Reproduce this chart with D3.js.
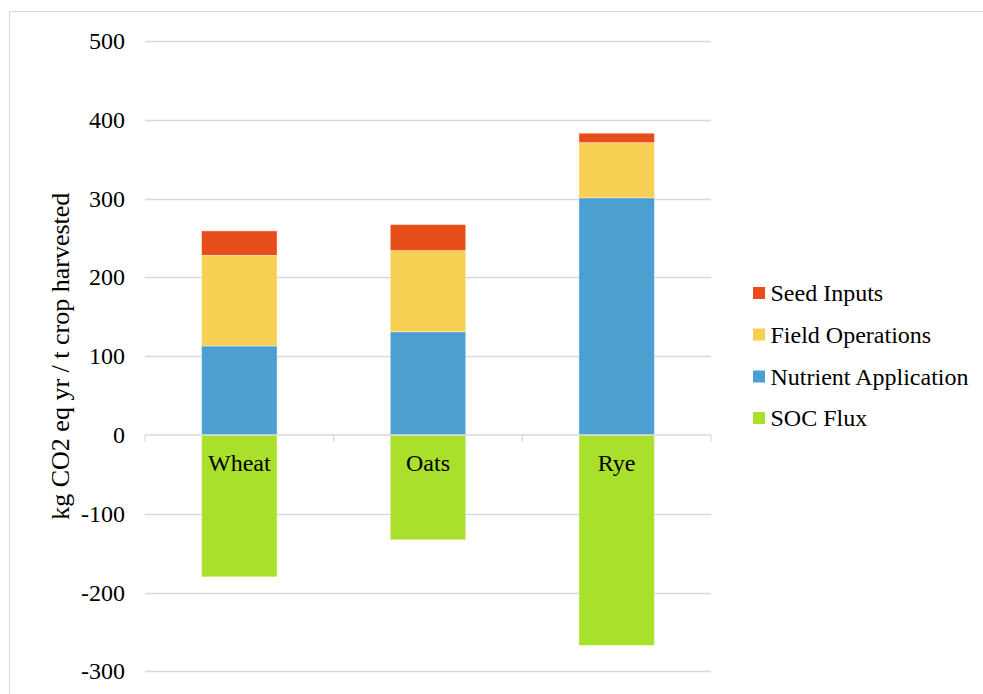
<!DOCTYPE html>
<html>
<head>
<meta charset="utf-8">
<script src="https://cdn.jsdelivr.net/npm/d3@7"></script>
<style>
  html, body { margin: 0; padding: 0; background: #fff; }
  svg text { font-family: 'Liberation Serif', 'Times New Roman', 'DejaVu Serif', serif; }
</style>
</head>
<body>
<svg id="chart" width="983" height="694"></svg>
<script>
// ---- data ----
const categories = ["Wheat", "Oats", "Rye"];
const seedInputs = [31, 33, 12];
const fieldOperations = [115, 103, 70];
const nutrientApplication = [113, 131, 301];
const socFlux = [-180, -133, -267];
const yTicks = [500, 400, 300, 200, 100, 0, -100, -200, -300];
const seriesNames = ["SOC Flux", "Nutrient Application", "Field Operations", "Seed Inputs"];
const legendOrder = ["Seed Inputs", "Field Operations", "Nutrient Application", "SOC Flux"];
const seriesColors = {
  "Seed Inputs": "#E84D1C",
  "Field Operations": "#F7CF53",
  "Nutrient Application": "#4C9FD1",
  "SOC Flux": "#A8E02B"
};
const yTitle = "kg CO2 eq yr / t crop harvested";

const rows = categories.map((c, i) => ({
  category: c,
  "SOC Flux": socFlux[i],
  "Nutrient Application": nutrientApplication[i],
  "Field Operations": fieldOperations[i],
  "Seed Inputs": seedInputs[i]
}));

const FONT = "Liberation Serif";
const svg = d3.select("#chart");

// outer border
svg.append("rect")
  .attr("x", 9.5).attr("y", 11.5)
  .attr("width", 1100).attr("height", 1100)
  .attr("fill", "none").attr("stroke", "#d9d9d9").attr("stroke-width", 1);

const plotLeft = 145, plotRight = 711, plotTop = 41, plotBottom = 671.4;

const y = d3.scaleLinear().domain([-300, 500]).range([plotBottom, plotTop]);
const x = d3.scaleBand().domain(categories).range([plotLeft, plotRight]).padding(0);
const barFrac = 0.4;

// gridlines
svg.append("g").selectAll("line").data(yTicks.filter(t => t !== 0)).join("line")
  .attr("x1", plotLeft).attr("x2", plotRight)
  .attr("y1", d => Math.round(y(d)) + 0.5).attr("y2", d => Math.round(y(d)) + 0.5)
  .attr("stroke", "#d9d9d9").attr("stroke-width", 1.3);

// y tick labels
svg.append("g").selectAll("text").data(yTicks).join("text")
  .attr("x", 125).attr("y", d => y(d))
  .attr("text-anchor", "end").attr("dominant-baseline", "central")
  .attr("font-family", FONT)
  .attr("font-size", 24).attr("fill", "#000")
  .text(d => d);

// stacked bars
const stack = d3.stack().keys(seriesNames).offset(d3.stackOffsetDiverging);
const stacked = stack(rows);

svg.append("g").selectAll("g").data(stacked).join("g")
  .attr("fill", d => seriesColors[d.key])
  .selectAll("rect").data(d => d).join("rect")
  .attr("x", d => x(d.data.category) + x.bandwidth() * (1 - barFrac) / 2)
  .attr("width", x.bandwidth() * barFrac)
  .attr("y", d => y(Math.max(d[0], d[1])))
  .attr("height", d => Math.abs(y(d[0]) - y(d[1])))
  .attr("stroke", "#ffffff").attr("stroke-opacity", 0.5).attr("stroke-width", 0.8);

// zero axis line with category ticks
const axisG = svg.append("g");
axisG.append("line")
  .attr("x1", plotLeft).attr("x2", plotRight)
  .attr("y1", y(0)).attr("y2", y(0))
  .attr("stroke", "#d9d9d9").attr("stroke-width", 1.3);
const bounds = categories.map(c => x(c)).concat([plotRight]);
axisG.selectAll("line.tick").data(bounds).join("line")
  .attr("class", "tick")
  .attr("x1", d => d).attr("x2", d => d)
  .attr("y1", y(0)).attr("y2", y(0) + 6.5)
  .attr("stroke", "#d9d9d9").attr("stroke-width", 1.3);

// category labels
svg.append("g").selectAll("text").data(categories).join("text")
  .attr("x", d => x(d) + x.bandwidth() / 2)
  .attr("y", y(0) + 36)
  .attr("text-anchor", "middle")
  .attr("font-family", FONT)
  .attr("font-size", 24).attr("fill", "#000")
  .text(d => d);

// y axis title
svg.append("text")
  .attr("transform", `translate(60,${(plotTop + plotBottom) / 2}) rotate(-90)`)
  .attr("text-anchor", "middle").attr("dominant-baseline", "central")
  .attr("font-family", FONT)
  .attr("font-size", 26).attr("fill", "#000")
  .text(yTitle);

// legend
const legendY = [293, 334.5, 376.5, 418];
const lg = svg.append("g").selectAll("g").data(legendOrder).join("g")
  .attr("transform", (d, i) => `translate(753,${legendY[i]})`);
lg.append("rect").attr("x", 0).attr("y", -6).attr("width", 12).attr("height", 12)
  .attr("fill", d => seriesColors[d]);
lg.append("text").attr("x", 17.5).attr("y", 0)
  .attr("dominant-baseline", "central")
  .attr("font-family", FONT)
  .attr("font-size", 24).attr("fill", "#000")
  .text(d => d);
</script>
</body>
</html>
